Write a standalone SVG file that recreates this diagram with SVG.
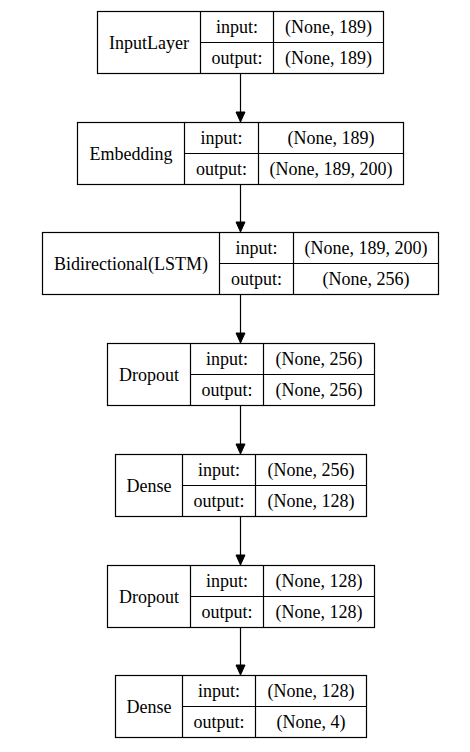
<svg xmlns="http://www.w3.org/2000/svg" width="470" height="752" viewBox="0 0 470 752">
<defs>
<style>
.n rect,.n line{fill:none;stroke:#000;stroke-width:1.2}
text{font-family:"Liberation Serif","Times New Roman",serif;font-size:18px;text-anchor:middle;fill:#000}
.c line{stroke:#000;stroke-width:1.2}
.c path{fill:#000;stroke:#000;stroke-width:1}
</style>
</defs>
<rect x="0" y="0" width="470" height="752" fill="#fff"/>
<g id="n1" class="n">
<rect x="97.5" y="11.5" width="286" height="62"/>
<line x1="200.5" y1="11.5" x2="200.5" y2="73.5"/>
<line x1="273.5" y1="11.5" x2="273.5" y2="73.5"/>
<line x1="200.5" y1="42.5" x2="383.5" y2="42.5"/>
<text x="149" y="48.5">InputLayer</text>
<text x="237" y="33">input:</text>
<text x="237" y="64">output:</text>
<text x="328.5" y="33">(None, 189)</text>
<text x="328.5" y="64">(None, 189)</text>
</g>
<g id="n2" class="n">
<rect x="77.5" y="122.5" width="326" height="62"/>
<line x1="184.5" y1="122.5" x2="184.5" y2="184.5"/>
<line x1="258.5" y1="122.5" x2="258.5" y2="184.5"/>
<line x1="184.5" y1="153.5" x2="403.5" y2="153.5"/>
<text x="131" y="159.5">Embedding</text>
<text x="221.5" y="144">input:</text>
<text x="221.5" y="175">output:</text>
<text x="331" y="144">(None, 189)</text>
<text x="331" y="175">(None, 189, 200)</text>
</g>
<g id="n3" class="n">
<rect x="42.5" y="232.5" width="396" height="62"/>
<line x1="219.5" y1="232.5" x2="219.5" y2="294.5"/>
<line x1="293.5" y1="232.5" x2="293.5" y2="294.5"/>
<line x1="219.5" y1="263.5" x2="438.5" y2="263.5"/>
<text x="131" y="269.5">Bidirectional(LSTM)</text>
<text x="256.5" y="254">input:</text>
<text x="256.5" y="285">output:</text>
<text x="366" y="254">(None, 189, 200)</text>
<text x="366" y="285">(None, 256)</text>
</g>
<g id="n4" class="n">
<rect x="107.5" y="343.5" width="267" height="62"/>
<line x1="190.5" y1="343.5" x2="190.5" y2="405.5"/>
<line x1="263.5" y1="343.5" x2="263.5" y2="405.5"/>
<line x1="190.5" y1="374.5" x2="374.5" y2="374.5"/>
<text x="149" y="380.5">Dropout</text>
<text x="227" y="365">input:</text>
<text x="227" y="396">output:</text>
<text x="319" y="365">(None, 256)</text>
<text x="319" y="396">(None, 256)</text>
</g>
<g id="n5" class="n">
<rect x="115.5" y="454.5" width="251" height="62"/>
<line x1="182.5" y1="454.5" x2="182.5" y2="516.5"/>
<line x1="255.5" y1="454.5" x2="255.5" y2="516.5"/>
<line x1="182.5" y1="485.5" x2="366.5" y2="485.5"/>
<text x="149" y="491.5">Dense</text>
<text x="219" y="476">input:</text>
<text x="219" y="507">output:</text>
<text x="311" y="476">(None, 256)</text>
<text x="311" y="507">(None, 128)</text>
</g>
<g id="n6" class="n">
<rect x="107.5" y="565.5" width="267" height="62"/>
<line x1="190.5" y1="565.5" x2="190.5" y2="627.5"/>
<line x1="263.5" y1="565.5" x2="263.5" y2="627.5"/>
<line x1="190.5" y1="596.5" x2="374.5" y2="596.5"/>
<text x="149" y="602.5">Dropout</text>
<text x="227" y="587">input:</text>
<text x="227" y="618">output:</text>
<text x="319" y="587">(None, 128)</text>
<text x="319" y="618">(None, 128)</text>
</g>
<g id="n7" class="n">
<rect x="115.5" y="675.5" width="251" height="62"/>
<line x1="182.5" y1="675.5" x2="182.5" y2="737.5"/>
<line x1="255.5" y1="675.5" x2="255.5" y2="737.5"/>
<line x1="182.5" y1="706.5" x2="366.5" y2="706.5"/>
<text x="149" y="712.5">Dense</text>
<text x="219" y="697">input:</text>
<text x="219" y="728">output:</text>
<text x="311" y="697">(None, 128)</text>
<text x="311" y="728">(None, 4)</text>
</g>
<g id="connectors" class="c">
<line x1="240.5" y1="74" x2="240.5" y2="112"/><path d="M236,112 L245,112 L240.5,122 Z"/>
<line x1="240.5" y1="185" x2="240.5" y2="222"/><path d="M236,222 L245,222 L240.5,232 Z"/>
<line x1="240.5" y1="295" x2="240.5" y2="333"/><path d="M236,333 L245,333 L240.5,343 Z"/>
<line x1="240.5" y1="406" x2="240.5" y2="444"/><path d="M236,444 L245,444 L240.5,454 Z"/>
<line x1="240.5" y1="517" x2="240.5" y2="555"/><path d="M236,555 L245,555 L240.5,565 Z"/>
<line x1="240.5" y1="628" x2="240.5" y2="665"/><path d="M236,665 L245,665 L240.5,675 Z"/>
</g>
</svg>
